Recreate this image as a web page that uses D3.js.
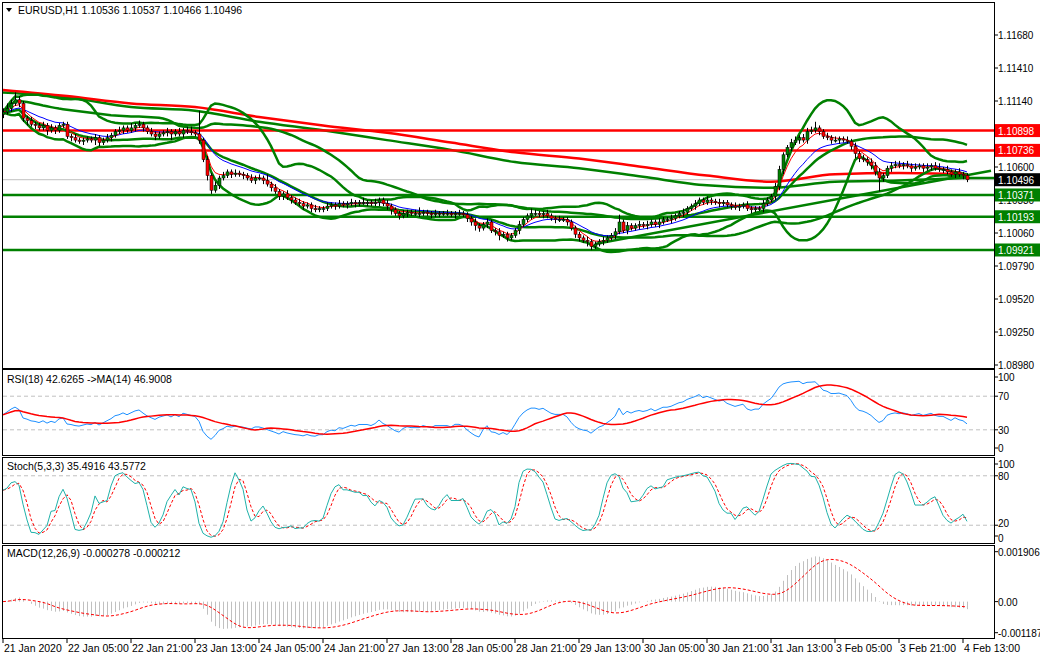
<!DOCTYPE html>
<html><head><meta charset="utf-8">
<script src="https://cdn.jsdelivr.net/npm/d3@7"></script>
<style>body{margin:0;background:#fff}svg{display:block}text{font-family:"Liberation Sans",Arial,sans-serif;font-size:10.5px;fill:#000}text.ax{font-size:10px}</style>
</head><body><svg id="c" width="1040" height="660"></svg>
<script>
// ---- DATA (closes in pips above 1.09000, hourly bars from 21 Jan 2020 00:00) ----
const closesPips = [
205,208,212,215,212,200,198,195,194,192,194,190,192,190,194,195,
185,184,182,181,182,183,182,184,180,182,184,186,189,190,192,190,
192,194,195,192,189,187,185,187,188,189,187,189,187,190,189,188,
187,182,166,153,141,145,151,153,156,154,155,154,153,151,149,151,
151,149,146,143,140,136,138,135,133,131,130,128,129,126,125,126,
126,128,129,128,130,129,130,131,130,131,131,131,130,131,133,130,
128,125,122,120,122,123,122,122,122,123,122,121,122,122,122,122,
121,122,122,121,118,115,112,110,113,115,108,107,104,105,102,104,
108,113,117,120,122,122,121,122,120,118,117,117,117,115,110,105,
102,100,99,95,97,99,100,102,104,107,115,108,112,110,112,113,
112,113,115,113,115,117,117,118,120,122,123,126,128,130,133,131,
133,132,131,130,131,129,128,127,128,129,126,125,126,126,130,133,
136,144,158,170,176,180,182,184,182,189,190,192,189,185,184,182,
182,183,182,181,177,171,167,166,164,161,156,151,153,159,161,162,
161,162,161,159,160,161,159,160,161,159,158,158,156,154,156,154,153,149.6];
const wickUpPips = [
3,4,3,6,3,2,2,3,2,2,3,2,3,2,2,2, 2,2,3,2,2,2,2,3,2,2,3,2,2,3,2,2,
4,2,3,2,2,3,2,2,2,3,2,2,3,2,3,4, 2,19,2,3,2,3,2,3,2,2,3,2,2,2,3,2,
3,2,5,2,3,2,2,3,2,2,3,2,2,2,3,2, 2,3,2,2,3,2,2,3,2,2,4,2,2,3,2,2,
3,2,2,2,3,2,2,3,5,2,2,2,3,2,2,3, 2,2,3,2,2,2,3,2,2,3,2,2,3,2,2,2,
2,3,2,2,4,3,2,2,3,2,2,3,2,2,2,2, 2,2,3,2,2,2,3,2,2,3,6,2,3,2,2,3,
2,3,2,2,3,2,2,3,2,2,3,2,2,3,2,2, 3,2,2,3,2,2,2,3,2,2,3,2,2,2,3,2,
2,3,3,2,2,3,3,2,3,3,3,5,2,2,3,2, 3,2,2,3,2,3,2,3,2,3,3,3,2,2,3,3,
3,2,3,2,3,2,2,3,2,3,4,2,3,2,2,3,2,2];
const wickDnPips = [
3,2,3,2,3,3,4,2,3,2,2,4,2,3,2,2, 2,3,2,2,3,2,2,4,3,2,2,3,2,2,3,2,
2,3,2,3,2,2,3,2,2,3,5,2,2,3,2,2, 2,3,2,4,3,2,3,2,2,3,2,2,3,2,2,3,
2,3,2,3,2,3,3,2,3,2,2,3,2,3,2,2, 3,2,2,3,2,2,3,2,3,2,2,3,2,2,3,2,
3,4,2,3,2,3,2,2,3,2,2,3,2,3,2,2, 2,3,2,2,3,3,4,3,2,3,2,3,4,2,3,2,
2,3,2,2,3,2,2,3,2,2,3,2,2,3,2,3, 3,2,4,3,2,2,3,2,2,3,2,2,3,2,2,3,
2,3,2,2,3,2,2,3,2,2,3,2,2,3,2,2, 2,3,2,3,2,2,3,2,3,2,2,3,2,2,3,2,
2,3,3,4,2,3,2,3,2,3,2,2,3,2,2,3, 2,3,2,2,3,4,3,2,3,3,3,11,3,2,3,2,
2,3,2,3,2,2,3,2,3,2,2,3,2,2,3,2,3,2];
const longMaPips   = [223,218,212,209,201,194,188,180,172,167,160,153,148,154,155,154];
const longBandPips = [221,217,209,206,197,190,182,174,164,159,152,145,143,148,149,151];
const resistances = [1.10898, 1.10736];
const supports = [1.10371, 1.10193, 1.09921];
const currentPrice = 1.10496;
const priceTicks = [1.11680,1.11410,1.11140,1.10600,1.10330,1.10060,1.09790,1.09520,1.09250,1.08980];
const timeLabels = ["21 Jan 2020","22 Jan 05:00","22 Jan 21:00","23 Jan 13:00","24 Jan 05:00","24 Jan 21:00","27 Jan 13:00","28 Jan 05:00","28 Jan 21:00","29 Jan 13:00","30 Jan 05:00","30 Jan 21:00","31 Jan 13:00","3 Feb 05:00","3 Feb 21:00","4 Feb 13:00"];
const trendFrom = {bar:148, pips:97}, trendTo = {bar:247, pips:157};

const P = v => 1.09 + v/10000;
const bars = closesPips.map((c,i)=>{
  const o = i===0 ? 203 : closesPips[i-1];
  return {i, o:P(o), c:P(c), h:P(Math.max(o,c)+wickUpPips[i]), l:P(Math.min(o,c)-wickDnPips[i])};
});
const C = bars.map(b=>b.c);

function ema(a,n){const k=2/(n+1);let r=[],p=a[0];a.forEach((v,i)=>{p=i?v*k+p*(1-k):v;r.push(p)});return r;}
function sma(a,n){return a.map((v,i)=>d3.mean(a.slice(Math.max(0,i-n+1),i+1)));}
function bb(a,n,k){const m=sma(a,n);return a.map((v,i)=>{const s=a.slice(Math.max(0,i-n+1),i+1);const sd=Math.sqrt(d3.mean(s,x=>(x-m[i])**2));return {u:m[i]+k*sd,l:m[i]-k*sd}});}
const maFast = ema(C,5), maSlow = ema(C,13);
const bb20 = bb(C,20,2), bb40 = bb(C,40,1);
function rsi(a,n){let r=[48],ag=0.00015,al=0.00016;for(let i=1;i<a.length;i++){const d=a[i]-a[i-1];ag=(ag*(n-1)+Math.max(d,0))/n;al=(al*(n-1)+Math.max(-d,0))/n;r.push(100-100/(1+ag/al));}return r;}
const rsiV = rsi(C,18); const rsiMa = sma(rsiV,14);
const kRaw=[];
bars.forEach((b,i)=>{const s=bars.slice(Math.max(0,i-4),i+1);const hh=d3.max(s,x=>x.h),ll=d3.min(s,x=>x.l);kRaw.push({num:b.c-ll,den:hh-ll});});
const stK = kRaw.map((v,i)=>{const s=kRaw.slice(Math.max(0,i-2),i+1);const dd=d3.sum(s,x=>x.den);return dd?100*d3.sum(s,x=>x.num)/dd:50;});
const stD = sma(stK,3);
const e12=ema(C,12),e26=ema(C,26);const macd=e12.map((v,i)=>v-e26[i]);const sig=sma(macd,9);

const svg = d3.select("#c");
const L=3,R=994;
const x = d3.scaleLinear().domain([0,241]).range([3,967]);
const y = d3.scaleLinear().domain([1.0898,1.1168]).range([365,35]);
const yR = d3.scaleLinear().domain([0,100]).range([455,371]);
const yS = d3.scaleLinear().domain([0,100]).range([541.7,459.3]);
const yM = d3.scaleLinear().domain([-0.001187,0.001906]).range([632.7,551.7]);
const panels=[[3,368],[370,455],[458,543],[546,638]];
svg.append("defs").selectAll("clipPath").data(panels).join("clipPath").attr("id",(d,i)=>"cp"+i)
  .append("rect").attr("x",L).attr("y",d=>d[0]).attr("width",R-L).attr("height",d=>d[1]-d[0]);
const g = panels.map((d,i)=>svg.append("g").attr("clip-path",`url(#cp${i})`));

const hline=(gg,v,col,w)=>gg.append("line").attr("x1",L).attr("x2",R).attr("y1",y(v)).attr("y2",y(v)).attr("stroke",col).attr("stroke-width",w);
hline(g[0],currentPrice,"#c0c0c0",1);
const line=(sc)=>d3.line().x((d,i)=>x(i)).y(d=>sc(d));
const lineL=(arr)=>d3.line().curve(d3.curveMonotoneX).x((d,i)=>x(i*16)).y(d=>y(P(d)))(arr);
g[0].append("path").attr("d",lineL(longBandPips)).attr("fill","none").attr("stroke","#008000").attr("stroke-width",2.5);
g[0].append("path").attr("d",lineL(longMaPips)).attr("fill","none").attr("stroke","#ff0000").attr("stroke-width",2.5);
g[0].append("line").attr("x1",x(240)).attr("x2",R).attr("y1",y(P(longBandPips[15]))).attr("y2",y(P(longBandPips[15]))).attr("stroke","#008000").attr("stroke-width",2.5);
resistances.forEach(v=>hline(g[0],v,"#ff0000",2.5));
supports.forEach(v=>hline(g[0],v,"#008000",2.5));
g[0].append("line").attr("x1",x(trendFrom.bar)).attr("y1",y(P(trendFrom.pips))).attr("x2",x(trendTo.bar)).attr("y2",y(P(trendTo.pips))).attr("stroke","#008000").attr("stroke-width",2.5);
[bb20.map(d=>d.u),bb20.map(d=>d.l),bb40.map(d=>d.u),bb40.map(d=>d.l)].forEach(a=>
  g[0].append("path").attr("d",line(y)(a)).attr("fill","none").attr("stroke","#008000").attr("stroke-width",2.5));
g[0].append("path").attr("d",line(y)(maSlow)).attr("fill","none").attr("stroke","#0000ff").attr("stroke-width",1);
g[0].append("path").attr("d",line(y)(maFast)).attr("fill","none").attr("stroke","#ff0000").attr("stroke-width",1);
const cg=g[0].append("g");
bars.forEach(b=>{
  const xx=Math.round(x(b.i))+0.5;
  cg.append("line").attr("x1",xx).attr("x2",xx).attr("y1",y(b.h)).attr("y2",y(b.l)).attr("stroke","#000");
  const top=y(Math.max(b.o,b.c)),bot=y(Math.min(b.o,b.c));
  cg.append("rect").attr("x",xx-1.5).attr("y",top).attr("width",3).attr("height",Math.max(1,bot-top))
    .attr("fill",b.c>=b.o?"#008000":"#ff0000").attr("stroke","#000").attr("stroke-width",0.5);
});
[70,30].forEach(v=>g[1].append("line").attr("x1",L).attr("x2",R).attr("y1",yR(v)).attr("y2",yR(v)).attr("stroke","#c0c0c0").attr("stroke-dasharray","4,3"));
g[1].append("path").attr("d",line(yR)(rsiV)).attr("fill","none").attr("stroke","#1e90ff");
g[1].append("path").attr("d",line(yR)(rsiMa)).attr("fill","none").attr("stroke","#ff0000").attr("stroke-width",1.5);
[80,20].forEach(v=>g[2].append("line").attr("x1",L).attr("x2",R).attr("y1",yS(v)).attr("y2",yS(v)).attr("stroke","#c0c0c0").attr("stroke-dasharray","4,3"));
g[2].append("path").attr("d",line(yS)(stD)).attr("fill","none").attr("stroke","#ff0000").attr("stroke-dasharray","3,2");
g[2].append("path").attr("d",line(yS)(stK)).attr("fill","none").attr("stroke","#20b2aa");
macd.forEach((v,i)=>g[3].append("line").attr("x1",x(i)+0.5).attr("x2",x(i)+0.5).attr("y1",yM(0)).attr("y2",yM(v)).attr("stroke","#c0c0c0"));
g[3].append("path").attr("d",line(yM)(sig)).attr("fill","none").attr("stroke","#ff0000").attr("stroke-dasharray","3,2");

panels.forEach(d=>svg.append("rect").attr("x",L-0.5).attr("y",d[0]-0.5).attr("width",R-L+1).attr("height",d[1]-d[0]+1).attr("fill","none").attr("stroke","#000"));
const tick=(yy,t,ty)=>{svg.append("line").attr("x1",R).attr("x2",R+4).attr("y1",yy).attr("y2",yy).attr("stroke","#000");svg.append("text").attr("class","ax").attr("x",998).attr("y",(ty??yy)+4).text(t);};
priceTicks.forEach(v=>tick(y(v),v.toFixed(5)));
[[100,377],[70,yR(70)],[30,yR(30)],[0,448]].forEach(([v,yy])=>tick(yy,v));
[[100,464],[80,yS(80)],[20,yS(20)],[0,536]].forEach(([v,yy])=>tick(yy,v,v===0?538:v===20?523:undefined));
[["0.001906",yM(0.001906)],["0.00",yM(0)],["-0.001187",yM(-0.001187)]].forEach(([t,yy])=>tick(yy,t));
const box=(v,col)=>{const yy=y(v);svg.append("rect").attr("x",995).attr("y",yy-6.5).attr("width",45).attr("height",13).attr("fill",col);
  svg.append("text").attr("class","ax").attr("x",998).attr("y",yy+4).attr("style","fill:#fff").text(v.toFixed(5));};
resistances.forEach(v=>box(v,"#ff0000"));supports.forEach(v=>box(v,"#008000"));box(currentPrice,"#000");
timeLabels.forEach((t,i)=>{const xx=x(i*16);svg.append("line").attr("x1",xx).attr("x2",xx).attr("y1",638).attr("y2",643).attr("stroke","#000");
  svg.append("text").attr("x",xx+1).attr("y",652).text(t);});
svg.append("path").attr("d","M6,8 L12,8 L9,12 Z").attr("fill","#000");
svg.append("text").attr("x",18).attr("y",14).text("EURUSD,H1  1.10536 1.10537 1.10466 1.10496");
svg.append("text").attr("x",7).attr("y",383).text("RSI(18) 42.6265  ->MA(14) 46.9008");
svg.append("text").attr("x",7).attr("y",470).text("Stoch(5,3,3) 35.4916 43.5772");
svg.append("text").attr("x",7).attr("y",557).text("MACD(12,26,9) -0.000278 -0.000212");
</script></body></html>
